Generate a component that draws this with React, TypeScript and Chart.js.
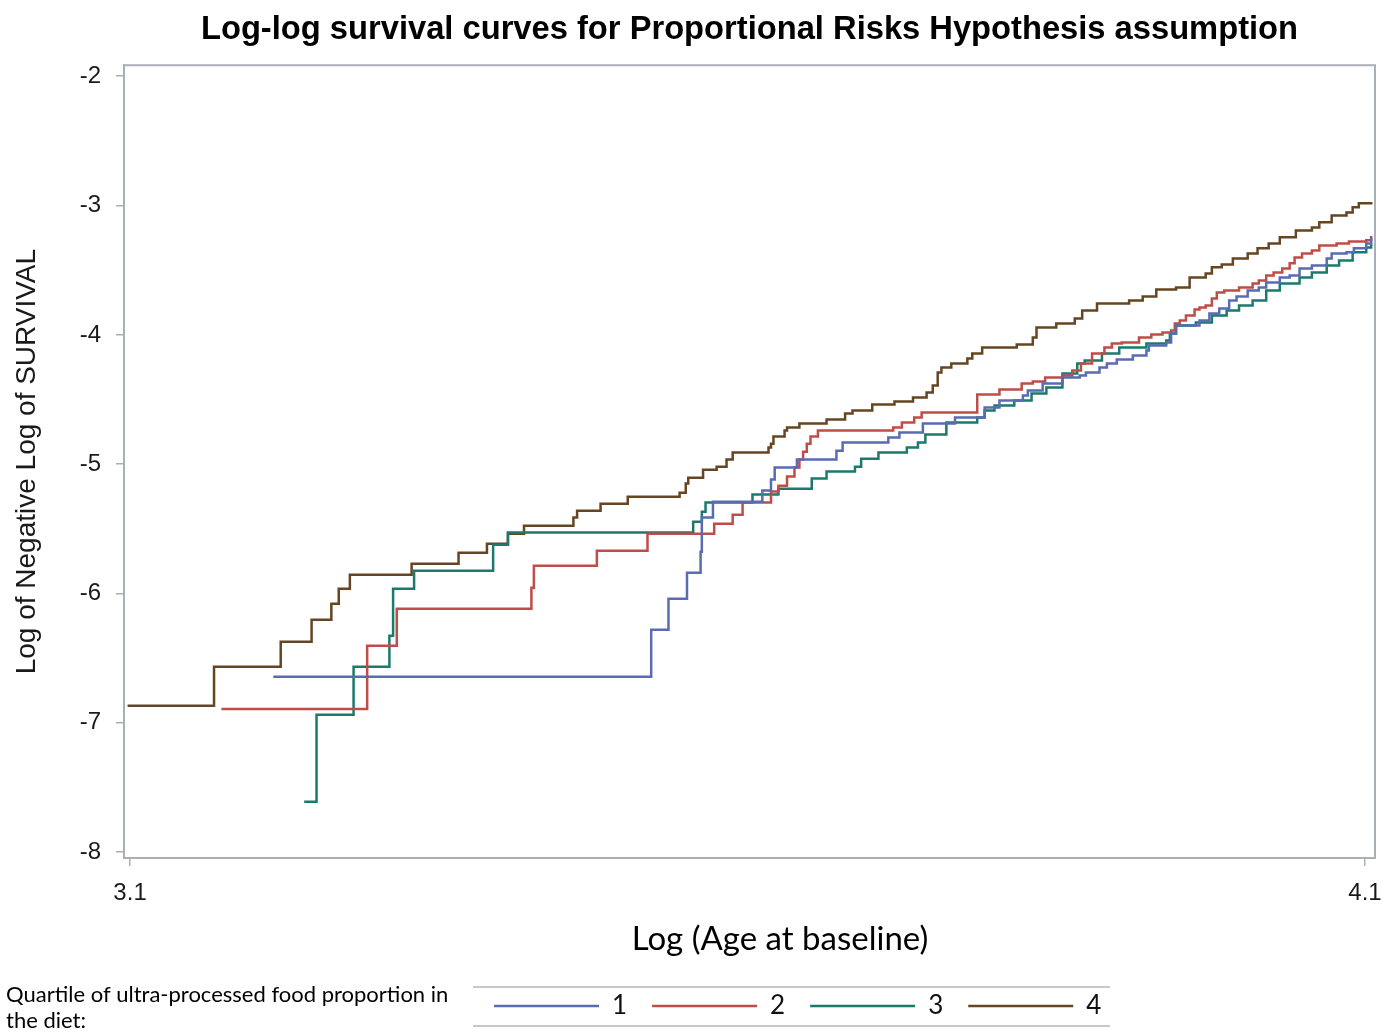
import React, { useEffect, useRef } from 'react';
import { Chart, registerables } from 'chart.js';

Chart.register(...registerables);

// ---------------- text ----------------
const TITLE = 'Log-log survival curves for Proportional Risks Hypothesis assumption';
const Y_TITLE = 'Log of Negative Log of SURVIVAL';
const X_TITLE = 'Log (Age at baseline)';
const LEGEND_CAPTION = ['Quartile of ultra-processed food proportion in', 'the diet:'];
const SERIES_LABELS = ['1', '2', '3', '4'];

// ---------------- ticks ----------------
const X_TICKS = [3.1, 4.1];
const Y_TICKS = [-2, -3, -4, -5, -6, -7, -8];

// ---------------- data: [log age where the step happens, log(-log S) after the step] ----------------
const Q1_STEPS: [number, number][] = [
  [3.216, -6.644], [3.522, -6.28], [3.536, -6.04], [3.551, -5.839], [3.562, -5.676], [3.563, -5.413],
  [3.572, -5.29], [3.612, -5.204], [3.619, -5.119], [3.622, -5.026], [3.64, -4.964], [3.672, -4.895],
  [3.677, -4.833], [3.714, -4.794], [3.723, -4.755], [3.742, -4.686], [3.768, -4.639], [3.792, -4.562],
  [3.804, -4.508], [3.823, -4.469], [3.827, -4.43], [3.839, -4.376], [3.855, -4.33], [3.869, -4.314],
  [3.874, -4.291], [3.885, -4.252], [3.891, -4.221], [3.899, -4.19], [3.912, -4.159], [3.923, -4.121],
  [3.925, -4.082], [3.939, -4.059], [3.943, -3.989], [3.947, -3.927], [3.966, -3.889], [3.974, -3.834],
  [3.982, -3.796], [3.99, -3.734], [3.996, -3.703], [4.005, -3.656], [4.014, -3.633], [4.02, -3.594],
  [4.031, -3.556], [4.039, -3.54], [4.047, -3.486], [4.057, -3.463], [4.069, -3.409], [4.073, -3.37],
  [4.085, -3.362], [4.091, -3.331], [4.101, -3.293], [4.105, -3.254], [4.106, -3.254],
];

const Q2_STEPS: [number, number][] = [
  [3.174, -6.892], [3.292, -6.404], [3.316, -6.118], [3.425, -5.955], [3.427, -5.785], [3.478, -5.669],
  [3.519, -5.537], [3.573, -5.46], [3.588, -5.39], [3.596, -5.297], [3.619, -5.212], [3.625, -5.166],
  [3.632, -5.096], [3.638, -5.026], [3.642, -4.964], [3.645, -4.903], [3.648, -4.841], [3.651, -4.786],
  [3.657, -4.74], [3.718, -4.717], [3.725, -4.678], [3.735, -4.639], [3.741, -4.601], [3.786, -4.461],
  [3.804, -4.423], [3.822, -4.376], [3.831, -4.361], [3.841, -4.33], [3.855, -4.314], [3.863, -4.276],
  [3.87, -4.221], [3.879, -4.144], [3.889, -4.098], [3.895, -4.067], [3.903, -4.059], [3.917, -4.02],
  [3.927, -3.997], [3.936, -3.981], [3.943, -3.966], [3.946, -3.912], [3.95, -3.889], [3.955, -3.85],
  [3.962, -3.803], [3.966, -3.788], [3.971, -3.772], [3.976, -3.718], [3.98, -3.672], [3.986, -3.656],
  [3.998, -3.633], [4.009, -3.602], [4.014, -3.579], [4.02, -3.54], [4.026, -3.517], [4.033, -3.486],
  [4.039, -3.447], [4.043, -3.401], [4.049, -3.37], [4.057, -3.347], [4.063, -3.308], [4.077, -3.293],
  [4.087, -3.277], [4.101, -3.269], [4.105, -3.246], [4.106, -3.246],
];

const Q3_STEPS: [number, number][] = [
  [3.241, -7.611], [3.251, -6.938], [3.281, -6.567], [3.31, -6.327], [3.313, -5.963], [3.33, -5.824],
  [3.394, -5.622], [3.406, -5.529], [3.556, -5.444], [3.563, -5.367], [3.566, -5.297], [3.604, -5.235],
  [3.625, -5.189], [3.652, -5.111], [3.664, -5.057], [3.687, -5.019], [3.692, -4.957], [3.706, -4.91],
  [3.729, -4.871], [3.738, -4.833], [3.744, -4.771], [3.761, -4.678], [3.786, -4.639], [3.792, -4.585],
  [3.8, -4.546], [3.816, -4.508], [3.83, -4.454], [3.842, -4.407], [3.855, -4.299], [3.867, -4.221],
  [3.873, -4.198], [3.887, -4.144], [3.901, -4.098], [3.923, -4.067], [3.939, -4.043], [3.942, -3.989],
  [3.947, -3.927], [3.963, -3.904], [3.976, -3.85], [3.988, -3.811], [3.998, -3.772], [4.009, -3.734],
  [4.02, -3.656], [4.031, -3.602], [4.047, -3.556], [4.057, -3.517], [4.069, -3.463], [4.079, -3.424],
  [4.09, -3.362], [4.101, -3.324], [4.105, -3.308], [4.106, -3.308],
];

const Q4_STEPS: [number, number][] = [
  [3.098, -6.868], [3.168, -6.567], [3.222, -6.373], [3.247, -6.203], [3.263, -6.079], [3.269, -5.963],
  [3.278, -5.854], [3.328, -5.769], [3.366, -5.684], [3.389, -5.615], [3.406, -5.537], [3.419, -5.475],
  [3.459, -5.413], [3.462, -5.359], [3.481, -5.305], [3.503, -5.251], [3.545, -5.22], [3.55, -5.15],
  [3.552, -5.104], [3.564, -5.042], [3.575, -5.019], [3.583, -4.964], [3.588, -4.91], [3.617, -4.871],
  [3.619, -4.841], [3.621, -4.786], [3.63, -4.74], [3.632, -4.717], [3.642, -4.686], [3.664, -4.655],
  [3.679, -4.608], [3.685, -4.585], [3.701, -4.539], [3.719, -4.515], [3.734, -4.485], [3.745, -4.446],
  [3.75, -4.392], [3.754, -4.291], [3.757, -4.252], [3.765, -4.221], [3.778, -4.183], [3.782, -4.144],
  [3.79, -4.098], [3.818, -4.074], [3.831, -4.02], [3.834, -3.943], [3.85, -3.912], [3.865, -3.873],
  [3.871, -3.811], [3.883, -3.757], [3.909, -3.734], [3.92, -3.703], [3.931, -3.649], [3.947, -3.633],
  [3.958, -3.556], [3.971, -3.525], [3.976, -3.478], [3.984, -3.455], [3.993, -3.409], [4.005, -3.37],
  [4.013, -3.331], [4.022, -3.293], [4.031, -3.246], [4.044, -3.192], [4.057, -3.169], [4.063, -3.13],
  [4.073, -3.076], [4.085, -3.053], [4.09, -3.014], [4.095, -2.983], [4.106, -2.983],
];

const SERIES = [Q1_STEPS, Q2_STEPS, Q3_STEPS, Q4_STEPS];

// ---------------- styles ----------------
const COLORS = ['#5a6bb4', '#bf4d47', '#1a7a6b', '#654522'];
const FRAME = '#a9afb5';
const ARIAL = '"Liberation Sans", Arial, sans-serif';
const CALIBRI = 'Lato, "Open Sans", sans-serif';
const W = 1397;
const H = 1035;
const X_RANGE = { min: 3.0951, max: 4.1081 };
const Y_RANGE = { min: -8.045, max: -1.915 };

const decorPlugin = {
  id: 'decor',
  beforeDatasetsDraw(chart: any) {
    const { ctx, chartArea: a } = chart;
    ctx.save();
    ctx.strokeStyle = FRAME;
    ctx.lineWidth = 2;
    ctx.strokeRect(a.left, a.top, a.right - a.left, a.bottom - a.top);
    ctx.restore();
  },
  afterLayout(chart: any) {
    const lg = chart.legend;
    if (lg) {
      lg.left = 469;
      lg.right = 1200;
      lg.top = 968;
    }
  },
  afterDraw(chart: any) {
    const ctx = chart.ctx;
    ctx.save();
    ctx.fillStyle = '#000';
    ctx.textBaseline = 'middle';
    ctx.textAlign = 'center';
    ctx.font = `33px ${CALIBRI}`;
    ctx.fillText(X_TITLE, 780, 939);
    ctx.textAlign = 'left';
    ctx.font = `22px ${CALIBRI}`;
    ctx.fillText(LEGEND_CAPTION[0], 6, 995);
    ctx.fillText(LEGEND_CAPTION[1], 6, 1021);
    ctx.strokeStyle = '#c8c8c8';
    ctx.lineWidth = 2;
    ctx.beginPath();
    ctx.moveTo(473, 987);
    ctx.lineTo(1110, 987);
    ctx.moveTo(473, 1026);
    ctx.lineTo(1110, 1026);
    ctx.stroke();
    ctx.restore();
  },
};

export default function App() {
  const ref = useRef<HTMLCanvasElement | null>(null);

  useEffect(() => {
    if (!ref.current) return;
    const chart = new Chart(ref.current, {
      type: 'line',
      data: {
        datasets: SERIES.map((s, i) => ({
          label: SERIES_LABELS[i],
          data: s.map(([x, y]) => ({ x, y })),
          borderColor: COLORS[i],
          backgroundColor: COLORS[i],
          borderWidth: 2.5,
          pointRadius: 0,
          pointHoverRadius: 0,
          stepped: 'before',
          fill: false,
          tension: 0,
        })),
      },
      options: {
        responsive: false,
        animation: false,
        events: [],
        layout: { padding: { left: 0, right: 22, top: 0, bottom: 0 } },
        scales: {
          x: {
            type: 'linear',
            min: X_RANGE.min,
            max: X_RANGE.max,
            afterBuildTicks: (s: any) => {
              s.ticks = X_TICKS.map((v) => ({ value: v }));
            },
            afterFit: (s: any) => {
              s.height = 116;
            },
            ticks: {
              callback: (v: any) => Number(v).toFixed(1),
              font: { family: ARIAL, size: 24 },
              color: '#1a1a1a',
              padding: 13,
              maxRotation: 0,
              autoSkip: false,
            },
            grid: { display: true, drawOnChartArea: false, drawTicks: true, tickLength: 8, color: FRAME, lineWidth: 1.5 },
            border: { display: true, color: FRAME, width: 2 },
          },
          y: {
            type: 'linear',
            min: Y_RANGE.min,
            max: Y_RANGE.max,
            afterBuildTicks: (s: any) => {
              s.ticks = Y_TICKS.map((v) => ({ value: v }));
            },
            afterFit: (s: any) => {
              s.width = 124;
            },
            ticks: {
              callback: (v: any) => String(Math.round(Number(v))),
              font: { family: ARIAL, size: 24 },
              color: '#1a1a1a',
              padding: 15,
              autoSkip: false,
            },
            grid: { display: true, drawOnChartArea: false, drawTicks: true, tickLength: 8, color: FRAME, lineWidth: 1.5 },
            border: { display: true, color: FRAME, width: 2 },
            title: {
              display: true,
              text: Y_TITLE,
              font: { family: ARIAL, size: 28 },
              color: '#1a1a1a',
              padding: { top: 10, bottom: 0 },
            },
          },
        },
        plugins: {
          title: {
            display: true,
            text: TITLE,
            fullSize: false,
            font: { family: ARIAL, size: 32.7, weight: 'bold' },
            color: '#000',
            padding: { top: 10.5, bottom: 15.5 },
          },
          legend: {
            display: true,
            position: 'bottom',
            align: 'start',
            labels: {
              usePointStyle: true,
              pointStyle: 'line',
              pointStyleWidth: 105,
              font: { family: CALIBRI, size: 26 },
              color: '#111',
              padding: 25,
            },
          },
          tooltip: { enabled: false },
        },
      } as any,
      plugins: [decorPlugin],
    });
    return () => chart.destroy();
  }, []);

  return (
    <div style={{ position: 'absolute', left: 0, top: 0, width: W, height: H, background: '#fff' }}>
      <canvas ref={ref} width={W} height={H} style={{ display: 'block' }} />
    </div>
  );
}
